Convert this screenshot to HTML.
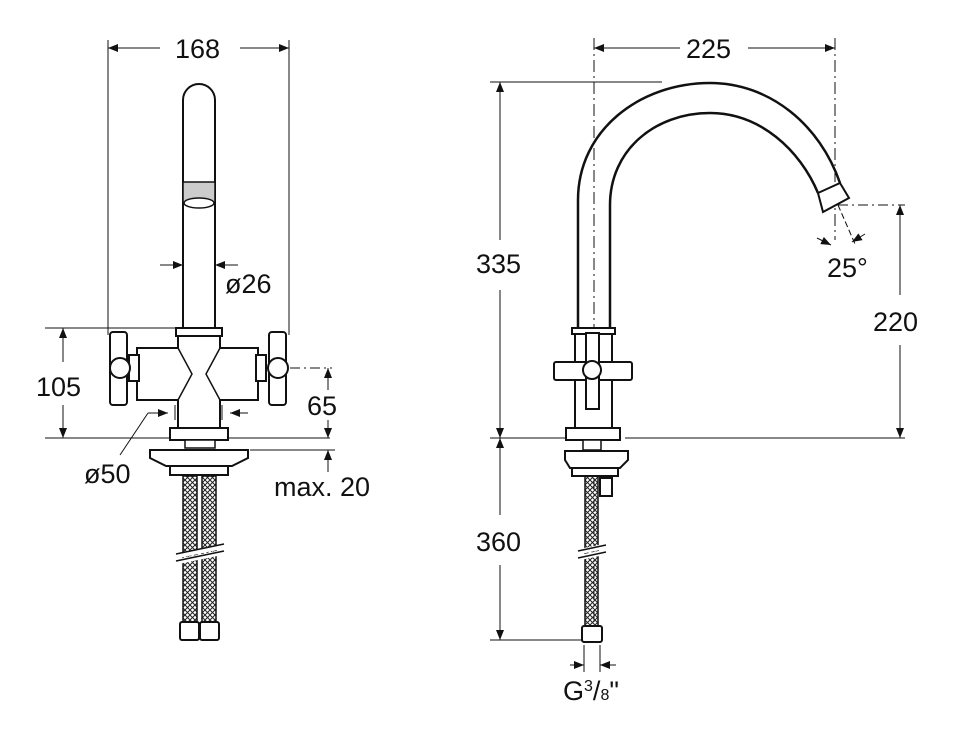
<!DOCTYPE html>
<html><head><meta charset="utf-8"><style>
html,body{margin:0;padding:0;background:#fff;width:966px;height:738px;overflow:hidden}
svg{display:block}
text{font-family:"Liberation Sans",sans-serif;font-size:27px;fill:#111}
</style></head><body>
<svg width="966" height="738" viewBox="0 0 966 738" xmlns="http://www.w3.org/2000/svg">
<defs>
<marker id="a" markerWidth="10" markerHeight="8" refX="10" refY="4" orient="auto" markerUnits="userSpaceOnUse"><path d="M0,0 L10,4 L0,8 Z" fill="#111"/></marker>
<pattern id="h" width="5" height="5" patternUnits="userSpaceOnUse"><path d="M0,5 L5,0 M0,0 L5,5" stroke="#222" stroke-width="1"/></pattern>
</defs>
<g stroke="#111" fill="none" stroke-width="1">
<line x1="108" y1="40" x2="108" y2="335"/><line x1="289" y1="40" x2="289" y2="335"/>
<line x1="160" y1="48" x2="108" y2="48" marker-end="url(#a)"/><line x1="240" y1="48" x2="289" y2="48" marker-end="url(#a)"/>
<line x1="45" y1="328" x2="178" y2="328"/><line x1="45" y1="438" x2="330" y2="438"/>
<line x1="63" y1="362" x2="63" y2="328" marker-end="url(#a)"/><line x1="63" y1="405" x2="63" y2="438" marker-end="url(#a)"/>
<line x1="290" y1="368" x2="332" y2="368" stroke-dasharray="10,4,2,4"/>
<line x1="328" y1="390" x2="328" y2="368" marker-end="url(#a)"/><line x1="328" y1="420" x2="328" y2="438" marker-end="url(#a)"/>
<line x1="250" y1="450" x2="335" y2="450"/><line x1="328" y1="472" x2="328" y2="450" marker-end="url(#a)"/>
<line x1="160" y1="265" x2="183" y2="265" marker-end="url(#a)"/><line x1="238" y1="265" x2="215" y2="265" marker-end="url(#a)"/>
<line x1="148" y1="413" x2="168" y2="413" marker-end="url(#a)"/><line x1="248" y1="413" x2="230" y2="413" marker-end="url(#a)"/>
<line x1="120" y1="455" x2="148" y2="413"/>
<line x1="175" y1="405" x2="175" y2="420"/><line x1="222" y1="405" x2="222" y2="420"/>
</g>
<g stroke="#111" fill="#fff" stroke-width="2">
<path d="M183,328 L183,100 A16,16 0 0 1 215,100 L215,328 Z"/>
<rect x="183" y="182" width="32" height="22" fill="#ccc" stroke-width="1.5"/>
<ellipse cx="199" cy="203" rx="15" ry="5" fill="#fff" stroke-width="1.5"/>
<rect x="176" y="328" width="46" height="8"/>
<path d="M178,336 L220,336 L220,348 L258,348 L258,400 L220,400 L220,428 L178,428 L178,400 L137,400 L137,348 L178,348 Z"/>
<path d="M178,348 L192,374 L178,400 M220,348 L206,374 L220,400" stroke-width="1.5"/>
<rect x="129" y="355" width="10" height="26"/><rect x="256" y="355" width="10" height="26"/>
<rect x="110" y="332" width="17" height="73" rx="3"/><rect x="269" y="332" width="17" height="73" rx="3"/>
<circle cx="120" cy="368" r="10"/><circle cx="278" cy="368" r="10"/>
<rect x="170" y="428" width="58" height="12"/>
<rect x="185" y="440" width="30" height="8" stroke-width="1.5"/>
<path d="M150,450 L248,450 L248,458 L232,466 L166,466 L150,458 Z"/>
<rect x="170" y="466" width="58" height="9"/>
<rect x="183" y="476" width="14" height="146" fill="url(#h)" stroke-width="1.5"/>
<rect x="202" y="476" width="14" height="146" fill="url(#h)" stroke-width="1.5"/>
<rect x="180" y="622" width="19" height="18" rx="2"/><rect x="200" y="622" width="19" height="18" rx="2"/>
</g>
<path d="M176,556 L224,546 M176,562 L224,552" stroke="#fff" stroke-width="5"/>
<path d="M176,554 L224,544 M176,561 L224,551" stroke="#111" stroke-width="1.5"/>

<g stroke="#111" fill="none" stroke-width="1">
<line x1="594" y1="38" x2="594" y2="640" stroke-dasharray="12,4,2,4"/>
<line x1="835" y1="38" x2="835" y2="240" stroke-dasharray="12,4,2,4"/>
<line x1="680" y1="48" x2="594" y2="48" marker-end="url(#a)"/><line x1="748" y1="48" x2="835" y2="48" marker-end="url(#a)"/>
<line x1="490" y1="82" x2="662" y2="82"/>
<line x1="500" y1="240" x2="500" y2="82" marker-end="url(#a)"/><line x1="500" y1="290" x2="500" y2="438" marker-end="url(#a)"/>
<line x1="490" y1="438" x2="565" y2="438"/><line x1="625" y1="438" x2="905" y2="438"/>
<line x1="500" y1="515" x2="500" y2="438" marker-end="url(#a)"/><line x1="500" y1="565" x2="500" y2="640" marker-end="url(#a)"/>
<line x1="490" y1="640" x2="583" y2="640"/>
<line x1="838" y1="205" x2="905" y2="205" stroke-dasharray="10,4,2,4"/>
<line x1="900" y1="295" x2="900" y2="205" marker-end="url(#a)"/><line x1="900" y1="345" x2="900" y2="438" marker-end="url(#a)"/>
<line x1="838" y1="205" x2="855" y2="244" stroke-dasharray="6,3"/>
<line x1="817" y1="238" x2="831" y2="245" marker-end="url(#a)"/><line x1="865" y1="234" x2="852" y2="242" marker-end="url(#a)"/>
<line x1="584" y1="645" x2="584" y2="672"/><line x1="600" y1="645" x2="600" y2="672"/>
<line x1="570" y1="665" x2="584" y2="665" marker-end="url(#a)"/><line x1="616" y1="665" x2="600" y2="665" marker-end="url(#a)"/>
</g>
<g stroke="#111" fill="#fff" stroke-width="2">
<path d="M578,328 L578,200 C578,130 640,83 710,83 C770,83 820,125 840,183" fill="none" stroke-width="2.5"/>
<path d="M610,328 L610,205 C610,150 655,113 710,113 C760,113 800,150 818,193" fill="none" stroke-width="2.5"/>
<path d="M818,193 L840,183 L849,198 L823,212 Z" stroke-width="2"/>
<rect x="575" y="328" width="37" height="100"/>
<rect x="572" y="328" width="43" height="6"/>
<rect x="554" y="362" width="78" height="18" rx="2"/>
<rect x="586" y="333" width="13" height="76"/>
<circle cx="592" cy="370" r="9"/>
<rect x="566" y="428" width="54" height="12"/>
<rect x="583" y="440" width="18" height="10" stroke-width="1.5"/>
<path d="M565,451 L628,451 L628,460 L620,468 L570,468 L565,460 Z"/>
<rect x="572" y="468" width="46" height="8"/>
<rect x="585" y="476" width="13" height="150" fill="url(#h)" stroke-width="1.5"/>
<rect x="600" y="478" width="12" height="18"/>
<rect x="582" y="626" width="20" height="16" rx="2"/>
</g>
<path d="M578,552 L606,546 M578,558 L606,552" stroke="#fff" stroke-width="5"/>
<path d="M578,551 L606,545 M578,558 L606,552" stroke="#111" stroke-width="1.5"/>

<text x="175" y="58">168</text>
<text x="225" y="293">ø26</text>
<text x="36" y="396">105</text>
<text x="307" y="415">65</text>
<text x="84" y="483">ø50</text>
<text x="274" y="496">max. 20</text>
<text x="686" y="58">225</text>
<text x="476" y="273">335</text>
<text x="827" y="277">25°</text>
<text x="873" y="331">220</text>
<text x="476" y="551">360</text>
<text x="563" y="700">G<tspan font-size="16" dy="-9">3</tspan><tspan dy="9">/</tspan><tspan font-size="16">8</tspan>"</text>
</svg>
</body></html>
